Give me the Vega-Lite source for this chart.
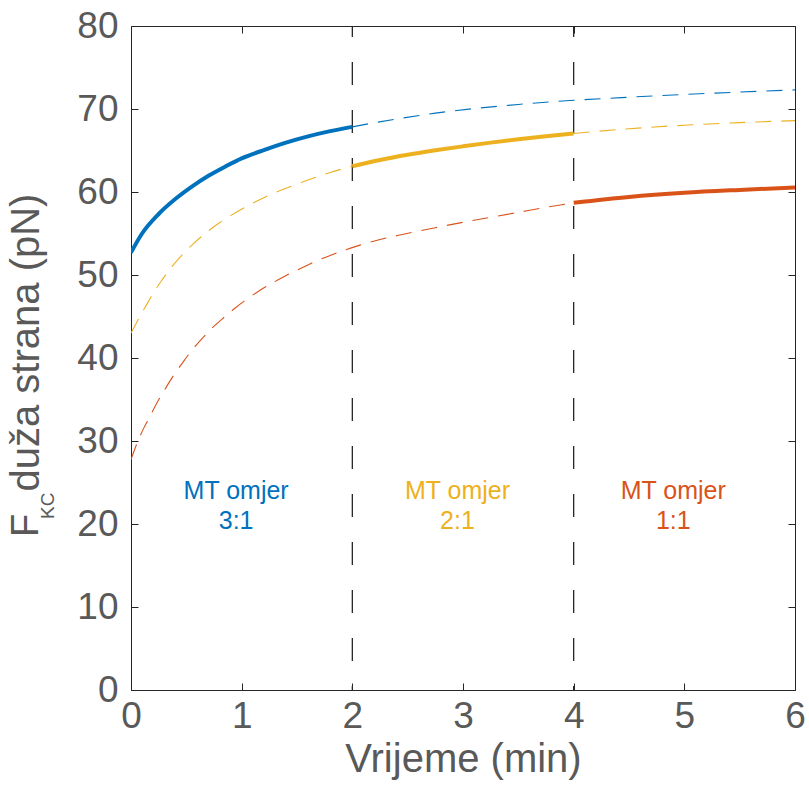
{
  "$schema": "https://vega.github.io/schema/vega-lite/v6.json",
  "width": 664,
  "height": 664,
  "autosize": {"type": "none"},
  "padding": {"left": 131, "top": 26, "right": 14, "bottom": 95},
  "background": "white",
  "config": {
    "view": {"stroke": "#262626", "strokeWidth": 1},
    "font": "Liberation Sans",
    "axis": {"grid": false, "domain": false, "labelFlush": false}
  },
  "datasets": {
    "curves": [
      {"ratio": "3:1", "seg": "3:1 a", "phase": "aktivno", "t": 0, "F": 52.7},
      {"ratio": "3:1", "seg": "3:1 a", "phase": "aktivno", "t": 0.1, "F": 55.0},
      {"ratio": "3:1", "seg": "3:1 a", "phase": "aktivno", "t": 0.25, "F": 57.35},
      {"ratio": "3:1", "seg": "3:1 a", "phase": "aktivno", "t": 0.4, "F": 59.15},
      {"ratio": "3:1", "seg": "3:1 a", "phase": "aktivno", "t": 0.55, "F": 60.65},
      {"ratio": "3:1", "seg": "3:1 a", "phase": "aktivno", "t": 0.7, "F": 61.95},
      {"ratio": "3:1", "seg": "3:1 a", "phase": "aktivno", "t": 0.85, "F": 63.05},
      {"ratio": "3:1", "seg": "3:1 a", "phase": "aktivno", "t": 1.0, "F": 64.05},
      {"ratio": "3:1", "seg": "3:1 a", "phase": "aktivno", "t": 1.2, "F": 65.05},
      {"ratio": "3:1", "seg": "3:1 a", "phase": "aktivno", "t": 1.4, "F": 65.95},
      {"ratio": "3:1", "seg": "3:1 a", "phase": "aktivno", "t": 1.6, "F": 66.7},
      {"ratio": "3:1", "seg": "3:1 a", "phase": "aktivno", "t": 1.8, "F": 67.33},
      {"ratio": "3:1", "seg": "3:1 a", "phase": "aktivno", "t": 2.0, "F": 67.85},
      {"ratio": "3:1", "seg": "3:1 b", "phase": "pasivno", "t": 2.0, "F": 67.85},
      {"ratio": "3:1", "seg": "3:1 b", "phase": "pasivno", "t": 2.2, "F": 68.35},
      {"ratio": "3:1", "seg": "3:1 b", "phase": "pasivno", "t": 2.45, "F": 68.9},
      {"ratio": "3:1", "seg": "3:1 b", "phase": "pasivno", "t": 2.75, "F": 69.5},
      {"ratio": "3:1", "seg": "3:1 b", "phase": "pasivno", "t": 3.1, "F": 70.05},
      {"ratio": "3:1", "seg": "3:1 b", "phase": "pasivno", "t": 3.5, "F": 70.55},
      {"ratio": "3:1", "seg": "3:1 b", "phase": "pasivno", "t": 4.0, "F": 71.05},
      {"ratio": "3:1", "seg": "3:1 b", "phase": "pasivno", "t": 4.5, "F": 71.42},
      {"ratio": "3:1", "seg": "3:1 b", "phase": "pasivno", "t": 5.0, "F": 71.75},
      {"ratio": "3:1", "seg": "3:1 b", "phase": "pasivno", "t": 5.5, "F": 72.04},
      {"ratio": "3:1", "seg": "3:1 b", "phase": "pasivno", "t": 6.0, "F": 72.3},

      {"ratio": "2:1", "seg": "2:1 a", "phase": "pasivno", "t": 0, "F": 43.0},
      {"ratio": "2:1", "seg": "2:1 a", "phase": "pasivno", "t": 0.08, "F": 45.0},
      {"ratio": "2:1", "seg": "2:1 a", "phase": "pasivno", "t": 0.14, "F": 46.4},
      {"ratio": "2:1", "seg": "2:1 a", "phase": "pasivno", "t": 0.21, "F": 48.0},
      {"ratio": "2:1", "seg": "2:1 a", "phase": "pasivno", "t": 0.28, "F": 49.4},
      {"ratio": "2:1", "seg": "2:1 a", "phase": "pasivno", "t": 0.37, "F": 51.0},
      {"ratio": "2:1", "seg": "2:1 a", "phase": "pasivno", "t": 0.46, "F": 52.4},
      {"ratio": "2:1", "seg": "2:1 a", "phase": "pasivno", "t": 0.57, "F": 53.85},
      {"ratio": "2:1", "seg": "2:1 a", "phase": "pasivno", "t": 0.67, "F": 55.0},
      {"ratio": "2:1", "seg": "2:1 a", "phase": "pasivno", "t": 0.79, "F": 56.2},
      {"ratio": "2:1", "seg": "2:1 a", "phase": "pasivno", "t": 0.9, "F": 57.15},
      {"ratio": "2:1", "seg": "2:1 a", "phase": "pasivno", "t": 1.03, "F": 58.15},
      {"ratio": "2:1", "seg": "2:1 a", "phase": "pasivno", "t": 1.13, "F": 58.85},
      {"ratio": "2:1", "seg": "2:1 a", "phase": "pasivno", "t": 1.28, "F": 59.8},
      {"ratio": "2:1", "seg": "2:1 a", "phase": "pasivno", "t": 1.4, "F": 60.45},
      {"ratio": "2:1", "seg": "2:1 a", "phase": "pasivno", "t": 1.55, "F": 61.2},
      {"ratio": "2:1", "seg": "2:1 a", "phase": "pasivno", "t": 1.65, "F": 61.68},
      {"ratio": "2:1", "seg": "2:1 a", "phase": "pasivno", "t": 1.8, "F": 62.35},
      {"ratio": "2:1", "seg": "2:1 a", "phase": "pasivno", "t": 1.92, "F": 62.82},
      {"ratio": "2:1", "seg": "2:1 a", "phase": "pasivno", "t": 2.0, "F": 63.1},
      {"ratio": "2:1", "seg": "2:1 b", "phase": "aktivno", "t": 2.0, "F": 63.1},
      {"ratio": "2:1", "seg": "2:1 b", "phase": "aktivno", "t": 2.25, "F": 63.85},
      {"ratio": "2:1", "seg": "2:1 b", "phase": "aktivno", "t": 2.5, "F": 64.48},
      {"ratio": "2:1", "seg": "2:1 b", "phase": "aktivno", "t": 2.75, "F": 65.02},
      {"ratio": "2:1", "seg": "2:1 b", "phase": "aktivno", "t": 3.0, "F": 65.5},
      {"ratio": "2:1", "seg": "2:1 b", "phase": "aktivno", "t": 3.25, "F": 65.95},
      {"ratio": "2:1", "seg": "2:1 b", "phase": "aktivno", "t": 3.5, "F": 66.35},
      {"ratio": "2:1", "seg": "2:1 b", "phase": "aktivno", "t": 3.75, "F": 66.72},
      {"ratio": "2:1", "seg": "2:1 b", "phase": "aktivno", "t": 4.0, "F": 67.05},
      {"ratio": "2:1", "seg": "2:1 c", "phase": "pasivno", "t": 4.0, "F": 67.05},
      {"ratio": "2:1", "seg": "2:1 c", "phase": "pasivno", "t": 4.5, "F": 67.62},
      {"ratio": "2:1", "seg": "2:1 c", "phase": "pasivno", "t": 5.0, "F": 68.05},
      {"ratio": "2:1", "seg": "2:1 c", "phase": "pasivno", "t": 5.5, "F": 68.36},
      {"ratio": "2:1", "seg": "2:1 c", "phase": "pasivno", "t": 6.0, "F": 68.6},

      {"ratio": "1:1", "seg": "1:1 a", "phase": "pasivno", "t": 0, "F": 27.75},
      {"ratio": "1:1", "seg": "1:1 a", "phase": "pasivno", "t": 0.06, "F": 29.9},
      {"ratio": "1:1", "seg": "1:1 a", "phase": "pasivno", "t": 0.11, "F": 31.4},
      {"ratio": "1:1", "seg": "1:1 a", "phase": "pasivno", "t": 0.18, "F": 33.2},
      {"ratio": "1:1", "seg": "1:1 a", "phase": "pasivno", "t": 0.23, "F": 34.5},
      {"ratio": "1:1", "seg": "1:1 a", "phase": "pasivno", "t": 0.31, "F": 36.3},
      {"ratio": "1:1", "seg": "1:1 a", "phase": "pasivno", "t": 0.37, "F": 37.6},
      {"ratio": "1:1", "seg": "1:1 a", "phase": "pasivno", "t": 0.47, "F": 39.5},
      {"ratio": "1:1", "seg": "1:1 a", "phase": "pasivno", "t": 0.54, "F": 40.75},
      {"ratio": "1:1", "seg": "1:1 a", "phase": "pasivno", "t": 0.65, "F": 42.45},
      {"ratio": "1:1", "seg": "1:1 a", "phase": "pasivno", "t": 0.72, "F": 43.45},
      {"ratio": "1:1", "seg": "1:1 a", "phase": "pasivno", "t": 0.85, "F": 45.0},
      {"ratio": "1:1", "seg": "1:1 a", "phase": "pasivno", "t": 0.93, "F": 45.9},
      {"ratio": "1:1", "seg": "1:1 a", "phase": "pasivno", "t": 1.07, "F": 47.3},
      {"ratio": "1:1", "seg": "1:1 a", "phase": "pasivno", "t": 1.17, "F": 48.2},
      {"ratio": "1:1", "seg": "1:1 a", "phase": "pasivno", "t": 1.3, "F": 49.2},
      {"ratio": "1:1", "seg": "1:1 a", "phase": "pasivno", "t": 1.41, "F": 50.0},
      {"ratio": "1:1", "seg": "1:1 a", "phase": "pasivno", "t": 1.55, "F": 50.9},
      {"ratio": "1:1", "seg": "1:1 a", "phase": "pasivno", "t": 1.66, "F": 51.6},
      {"ratio": "1:1", "seg": "1:1 a", "phase": "pasivno", "t": 1.81, "F": 52.4},
      {"ratio": "1:1", "seg": "1:1 a", "phase": "pasivno", "t": 1.92, "F": 52.95},
      {"ratio": "1:1", "seg": "1:1 a", "phase": "pasivno", "t": 2.07, "F": 53.6},
      {"ratio": "1:1", "seg": "1:1 a", "phase": "pasivno", "t": 2.2, "F": 54.1},
      {"ratio": "1:1", "seg": "1:1 a", "phase": "pasivno", "t": 2.44, "F": 54.85},
      {"ratio": "1:1", "seg": "1:1 a", "phase": "pasivno", "t": 2.62, "F": 55.35},
      {"ratio": "1:1", "seg": "1:1 a", "phase": "pasivno", "t": 2.75, "F": 55.7},
      {"ratio": "1:1", "seg": "1:1 a", "phase": "pasivno", "t": 3.0, "F": 56.35},
      {"ratio": "1:1", "seg": "1:1 a", "phase": "pasivno", "t": 3.25, "F": 56.95},
      {"ratio": "1:1", "seg": "1:1 a", "phase": "pasivno", "t": 3.5, "F": 57.55},
      {"ratio": "1:1", "seg": "1:1 a", "phase": "pasivno", "t": 3.75, "F": 58.15},
      {"ratio": "1:1", "seg": "1:1 a", "phase": "pasivno", "t": 4.0, "F": 58.7},
      {"ratio": "1:1", "seg": "1:1 b", "phase": "aktivno", "t": 4.0, "F": 58.7},
      {"ratio": "1:1", "seg": "1:1 b", "phase": "aktivno", "t": 4.5, "F": 59.4},
      {"ratio": "1:1", "seg": "1:1 b", "phase": "aktivno", "t": 5.0, "F": 59.9},
      {"ratio": "1:1", "seg": "1:1 b", "phase": "aktivno", "t": 5.5, "F": 60.25},
      {"ratio": "1:1", "seg": "1:1 b", "phase": "aktivno", "t": 6.0, "F": 60.55}
    ],
    "switches": [{"t": 2}, {"t": 4}],
    "labels": [
      {"ratio": "3:1", "t": 0.95, "F": 24.0, "label": "MT omjer\n3:1"},
      {"ratio": "2:1", "t": 2.95, "F": 24.0, "label": "MT omjer\n2:1"},
      {"ratio": "1:1", "t": 4.9, "F": 24.0, "label": "MT omjer\n1:1"}
    ]
  },
  "layer": [
    {
      "data": {"name": "switches"},
      "mark": {"type": "rule", "color": "#262626", "strokeWidth": 1.3, "strokeDash": [23, 25], "strokeDashOffset": 12},
      "encoding": {
        "x": {"field": "t", "type": "quantitative", "scale": {"domain": [0, 6], "nice": false, "zero": false}, "axis": null}
      }
    },
    {
      "data": {"name": "curves"},
      "transform": [{"filter": "datum.phase == 'pasivno'"}],
      "mark": {"type": "line", "strokeWidth": 1.1, "strokeDash": [16, 10], "interpolate": "monotone", "clip": true},
      "encoding": {
        "x": {
          "field": "t", "type": "quantitative",
          "scale": {"domain": [0, 6], "nice": false, "zero": false},
          "axis": {
            "orient": "bottom", "values": [0, 1, 2, 3, 4, 5, 6], "format": "d",
            "title": "Vrijeme (min)", "titleFontSize": 40, "titleColor": "#595959", "titleFontWeight": "normal",
            "titlePadding": 5,
            "labelFontSize": 37, "labelColor": "#595959", "labelPadding": 15,
            "tickSize": -7, "tickColor": "#262626", "tickWidth": 1
          }
        },
        "y": {
          "field": "F", "type": "quantitative",
          "scale": {"domain": [0, 80], "nice": false},
          "axis": {
            "orient": "left", "values": [0, 10, 20, 30, 40, 50, 60, 70, 80],
            "title": "duža strana (pN)", "titleFontSize": 40, "titleColor": "#595959", "titleFontWeight": "normal",
            "titleAngle": 270, "titleAlign": "left", "titleBaseline": "alphabetic", "titleX": -93, "titleY": 465,
            "labelFontSize": 37, "labelColor": "#595959", "labelPadding": 20,
            "tickSize": -7, "tickColor": "#262626", "tickWidth": 1
          }
        },
        "color": {"field": "ratio", "type": "nominal", "scale": {"domain": ["3:1", "2:1", "1:1"], "range": ["#0072BD", "#EDB120", "#D95319"]}, "legend": null},
        "detail": {"field": "seg"}
      }
    },
    {
      "data": {"name": "curves"},
      "transform": [{"filter": "datum.phase == 'aktivno'"}],
      "mark": {"type": "line", "strokeWidth": 4, "strokeCap": "butt", "interpolate": "monotone", "clip": true},
      "encoding": {
        "x": {"field": "t", "type": "quantitative", "axis": null},
        "y": {"field": "F", "type": "quantitative", "axis": null},
        "color": {"field": "ratio", "type": "nominal", "legend": null},
        "detail": {"field": "seg"}
      }
    },
    {
      "data": {"name": "labels"},
      "mark": {"type": "text", "fontSize": 25, "lineBreak": "\n", "lineHeight": 30, "align": "center", "baseline": "middle"},
      "encoding": {
        "x": {
          "field": "t", "type": "quantitative",
          "axis": {"orient": "top", "values": [0, 1, 2, 3, 4, 5, 6], "labels": false, "title": null, "tickSize": -7, "tickColor": "#262626"}
        },
        "y": {
          "field": "F", "type": "quantitative",
          "axis": {"orient": "right", "values": [0, 10, 20, 30, 40, 50, 60, 70, 80], "labels": false, "title": null, "tickSize": -7, "tickColor": "#262626"}
        },
        "text": {"field": "label"},
        "color": {"field": "ratio", "type": "nominal", "legend": null}
      }
    },
    {
      "data": {"values": [{"sym": "F"}]},
      "mark": {"type": "text", "fontSize": 38, "angle": 270, "align": "left", "baseline": "alphabetic", "color": "#595959"},
      "encoding": {
        "x": {"datum": -0.84, "type": "quantitative", "axis": null},
        "y": {"datum": 18.43, "type": "quantitative", "axis": null},
        "text": {"field": "sym"}
      }
    },
    {
      "data": {"values": [{"sym": "KC"}]},
      "mark": {"type": "text", "fontSize": 19, "angle": 270, "align": "left", "baseline": "alphabetic", "dy": 16, "color": "#595959"},
      "encoding": {
        "x": {"datum": -0.84, "type": "quantitative", "axis": null},
        "y": {"datum": 20.6, "type": "quantitative", "axis": null},
        "text": {"field": "sym"}
      }
    }
  ],
  "resolve": {"axis": {"x": "independent", "y": "independent"}}
}
